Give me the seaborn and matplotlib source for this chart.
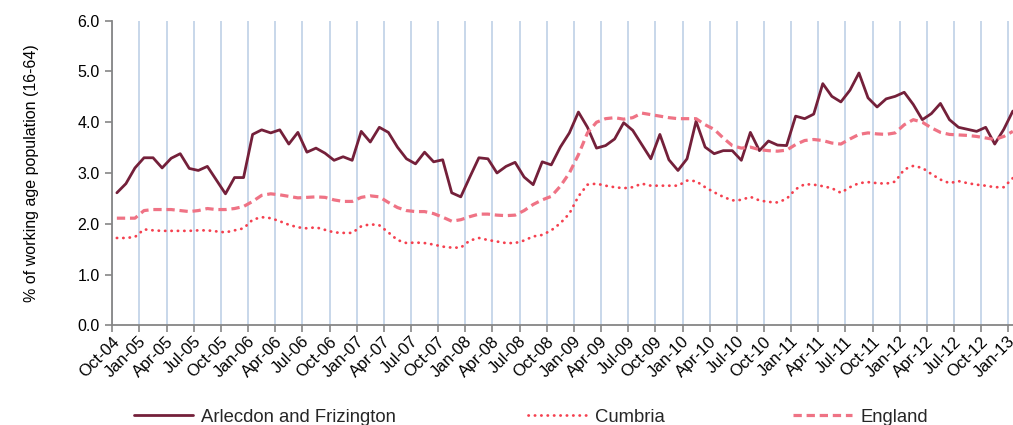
import matplotlib
matplotlib.use("Agg")
import matplotlib.pyplot as plt
import numpy as np
import pandas as pd
import seaborn as sns

# Monthly claimant rates, Oct-04 to Jan-13
months = pd.date_range("2004-10-01", "2013-01-01", freq="MS")
month_labels = [d.strftime("%b-%y") for d in months]

arlecdon = [2.61, 2.79, 3.10, 3.30, 3.30, 3.10, 3.29, 3.38, 3.09, 3.05,
            3.13, 2.86, 2.59, 2.91, 2.91, 3.76, 3.85, 3.79, 3.85, 3.57,
            3.80, 3.41, 3.49, 3.39, 3.25, 3.32, 3.25, 3.82, 3.61, 3.90,
            3.80, 3.51, 3.28, 3.18, 3.41, 3.22, 3.26, 2.61, 2.53, 2.92,
            3.30, 3.28, 3.00, 3.13, 3.21, 2.92, 2.77, 3.22, 3.16, 3.51,
            3.79, 4.20, 3.90, 3.49, 3.54, 3.67, 3.99, 3.84, 3.56, 3.28,
            3.76, 3.26, 3.05, 3.28, 4.02, 3.51, 3.38, 3.44, 3.44, 3.25,
            3.80, 3.44, 3.63, 3.55, 3.54, 4.12, 4.07, 4.16, 4.76, 4.51,
            4.40, 4.63, 4.97, 4.48, 4.30, 4.46, 4.51, 4.59, 4.35, 4.05,
            4.17, 4.37, 4.05, 3.90, 3.86, 3.82, 3.90, 3.57, 3.86, 4.22]

cumbria = [1.72, 1.72, 1.74, 1.89, 1.87, 1.86, 1.86, 1.86, 1.86, 1.87,
           1.87, 1.85, 1.83, 1.87, 1.91, 2.08, 2.13, 2.11, 2.05, 1.98,
           1.93, 1.91, 1.93, 1.88, 1.83, 1.82, 1.82, 1.95, 1.99, 1.97,
           1.83, 1.68, 1.62, 1.63, 1.62, 1.59, 1.55, 1.53, 1.53, 1.67,
           1.72, 1.68, 1.65, 1.62, 1.62, 1.67, 1.75, 1.78, 1.87, 2.01,
           2.20, 2.54, 2.77, 2.79, 2.75, 2.72, 2.70, 2.72, 2.79, 2.75,
           2.75, 2.75, 2.75, 2.85, 2.84, 2.72, 2.62, 2.53, 2.46, 2.47,
           2.53, 2.46, 2.43, 2.42, 2.49, 2.68, 2.78, 2.77, 2.74, 2.70,
           2.61, 2.72, 2.80, 2.82, 2.80, 2.79, 2.83, 3.07, 3.14, 3.10,
           2.98, 2.87, 2.80, 2.84, 2.80, 2.77, 2.75, 2.72, 2.72, 2.90]

england = [2.11, 2.11, 2.11, 2.26, 2.28, 2.28, 2.28, 2.26, 2.24, 2.26,
           2.30, 2.28, 2.28, 2.30, 2.34, 2.44, 2.56, 2.59, 2.57, 2.54,
           2.51, 2.52, 2.53, 2.52, 2.47, 2.44, 2.44, 2.52, 2.55, 2.53,
           2.42, 2.32, 2.26, 2.24, 2.24, 2.20, 2.13, 2.05, 2.08, 2.14,
           2.19, 2.19, 2.17, 2.16, 2.17, 2.26, 2.38, 2.47, 2.54, 2.74,
           3.00, 3.36, 3.79, 4.00, 4.07, 4.09, 4.06, 4.09, 4.18, 4.15,
           4.12, 4.09, 4.07, 4.07, 4.07, 3.95, 3.86, 3.69, 3.54, 3.49,
           3.51, 3.46, 3.44, 3.43, 3.45, 3.56, 3.64, 3.66, 3.64, 3.59,
           3.57, 3.67, 3.76, 3.79, 3.77, 3.76, 3.79, 3.95, 4.05, 4.00,
           3.89, 3.80, 3.76, 3.75, 3.74, 3.72, 3.69, 3.66, 3.72, 3.82]

series_names = ["Arlecdon and Frizington", "Cumbria", "England"]
series_colors = ["#74203a", "#f5404f", "#ef7385"]

sns.set_style("white")
plt.rcParams["font.family"] = ["Liberation Sans", "DejaVu Sans"]

fig = plt.figure(figsize=(10.13, 4.25), dpi=100)
ax = fig.add_axes([0.1109, 0.2346, 0.8934, 0.7167])

idx = np.arange(len(months))
frame = pd.DataFrame({"idx": idx, "arlecdon": arlecdon,
                      "cumbria": cumbria, "england": england})

sns.lineplot(data=frame, x="idx", y="arlecdon", ax=ax, color=series_colors[0],
             linewidth=2.0, label=series_names[0])
sns.lineplot(data=frame, x="idx", y="cumbria", ax=ax, color=series_colors[1],
             linewidth=2.0, label=series_names[1])
sns.lineplot(data=frame, x="idx", y="england", ax=ax, color=series_colors[2],
             linewidth=2.3, label=series_names[2])

lines = ax.get_lines()
lines[0].set_solid_joinstyle("round")
lines[1].set_linestyle((0, (0.1, 2.2)))
lines[1].set_dash_capstyle("round")
lines[2].set_linestyle((0, (2.6, 1.5)))

ax.set_xlim(-0.5, 99.5)
ax.set_ylim(0, 6)

# Category boundaries carry tick marks and gridlines; labels sit on month centres
boundaries = np.arange(-0.5, 100, 3)
ax.set_xticks(boundaries)
ax.set_xticklabels([""] * len(boundaries))
label_pos = np.arange(0, 100, 3)
ax.set_xticks(label_pos, minor=True)
ax.set_xticklabels([month_labels[i] for i in label_pos], minor=True)
for lbl in ax.get_xticklabels(minor=True):
    lbl.set_rotation(45)
    lbl.set_ha("right")
    lbl.set_va("center")
    lbl.set_rotation_mode("anchor")
ax.tick_params(axis="x", which="major", length=5, width=1.2, color="#868686",
               direction="out", bottom=True)
ax.tick_params(axis="x", which="minor", length=0, pad=10, labelsize=12,
               labelcolor="black", bottom=True)

ax.set_yticks(np.arange(0, 6.1, 1.0))
ax.yaxis.set_major_formatter(matplotlib.ticker.FormatStrFormatter("%.1f"))
ax.tick_params(axis="y", length=5, width=1.2, color="#868686", direction="out",
               labelsize=11.5, labelcolor="black", left=True, pad=4)

ax.grid(False)
ax.xaxis.grid(True, which="major", color="#b9cde4", linewidth=1.1)
ax.set_axisbelow(True)

for side in ["top", "right"]:
    ax.spines[side].set_visible(False)
for side in ["left", "bottom"]:
    ax.spines[side].set_color("#868686")
    ax.spines[side].set_linewidth(1.3)

ax.set_xlabel("")
ax.set_ylabel("% of working age population (16-64)", fontsize=11.5, color="black")
ax.yaxis.set_label_coords(-0.081, 0.5)

# One legend entry per series, spread along the bottom edge
handles = ax.get_lines()[:3]
ax.get_legend().remove()
entry_x = [134, 528, 793]
for handle, name, x0 in zip(handles, series_names, entry_x):
    fig.legend([handle], [name], loc="center left",
               bbox_to_anchor=(x0 / 1013, 8 / 425), frameon=False,
               handlelength=3.2, handletextpad=0.43,
               borderpad=0, borderaxespad=0, fontsize=13.3)

fig.savefig("out.png", dpi=100)
